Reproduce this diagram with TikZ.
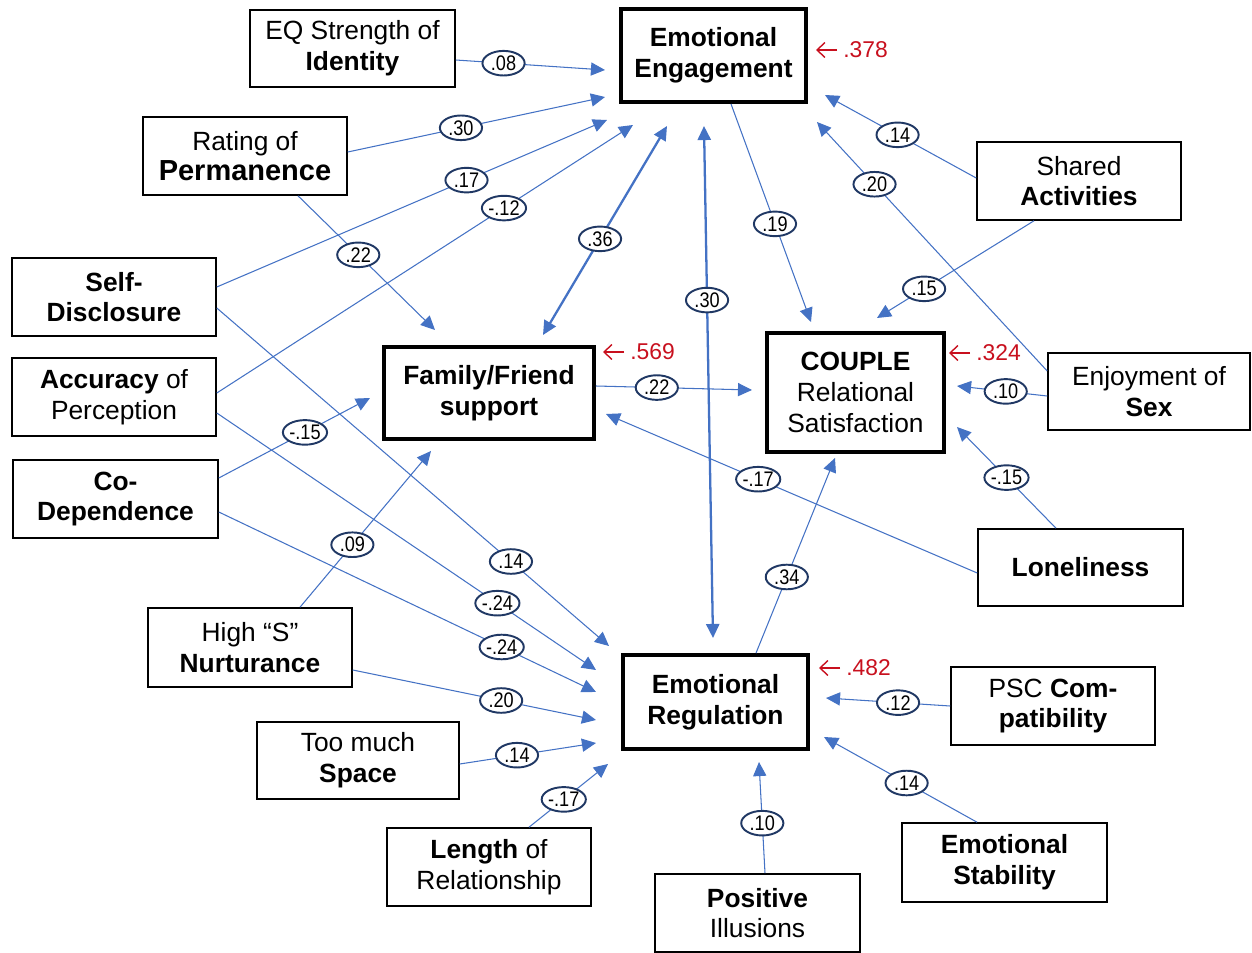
\documentclass[tikz,border=0pt]{standalone}
\usepackage{fontspec}
\setmainfont{Liberation Sans}
\newfontfamily\labfont[FakeStretch=0.86]{Liberation Sans}
\usetikzlibrary{arrows.meta,shapes.geometric,calc}
\definecolor{lineblue}{RGB}{68,114,196}
\definecolor{labnavy}{RGB}{32,56,100}
\definecolor{rsq}{RGB}{200,16,30}
\begin{document}
\begin{tikzpicture}[x=0.02cm,y=-0.02cm,
  box/.style={draw=black, line width=0.9pt, fill=white, align=center, inner sep=0pt, font=\fontsize{15}{17.5}\selectfont},
  thickbox/.style={box, line width=2.2pt},
  sz/.style 2 args={minimum width=#1*0.02cm, minimum height=#2*0.02cm},
  arr/.style={draw=lineblue, line width=0.6pt, -{Triangle[length=8pt,width=7.5pt]}},
  darr/.style={draw=lineblue, line width=1.3pt, {Triangle[length=8pt,width=7.5pt]}-{Triangle[length=8pt,width=7.5pt]}},
  lab/.style={ellipse, draw=labnavy, line width=1.1pt, fill=white, inner sep=0pt, minimum width=24pt, minimum height=14pt, font=\labfont\fontsize{12}{13}\selectfont, text=black},
  rlab/.style={anchor=west, inner sep=0pt, text=rsq, font=\fontsize{13}{15}\selectfont},
  rarr/.style={draw=rsq, line width=0.8pt, -{Straight Barb[length=4.5pt,width=8.5pt]}}]
\useasboundingbox (0,0) rectangle (1252,953);

% boxes
\node[box,sz={205}{77}] (eq) at (352.5,48.5) {EQ Strength of\\\textbf{Identity}};
\node[thickbox,sz={185}{93}] (ee) at (713.5,55.5) {\textbf{Emotional}\\\textbf{Engagement}};
\node[box,sz={204}{78}] (perm) at (245,156) {Rating of\\\textbf{\fontsize{16.5}{17.5}\selectfont Permanence}};
\node[box,sz={204}{78}] (sd) at (114,297) {\textbf{Self-}\\\textbf{Disclosure}};
\node[box,sz={204}{78}] (sa) at (1079,181) {Shared\\\textbf{Activities}};
\node[box,sz={204}{78}] (acc) at (114,397) {\textbf{Accuracy} of\\Perception};
\node[box,sz={205}{78}] (cod) at (115.5,499) {\textbf{Co-}\\\textbf{Dependence}};
\node[thickbox,sz={210}{92}] (ff) at (489,393) {\textbf{Family/Friend}\\\textbf{support}};
\node[box,line width=2.6pt,sz={177}{119}] (cp) at (855.5,392.5) {\textbf{COUPLE}\\Relational\\Satisfaction};
\node[box,sz={202}{77}] (sex) at (1149,391.5) {Enjoyment of\\\textbf{Sex}};
\node[box,sz={205}{77}] (lone) at (1080.5,567.5) {\textbf{Loneliness}};
\node[box,sz={204}{79}] (nurt) at (250,647.5) {High “S”\\\textbf{Nurturance}};
\node[box,sz={202}{77}] (space) at (358,760.5) {Too much\\\textbf{Space}};
\node[box,sz={204}{78}] (len) at (489,867) {\textbf{Length} of\\Relationship};
\node[thickbox,sz={185}{94}] (er) at (715.5,702) {\textbf{Emotional}\\\textbf{Regulation}};
\node[box,sz={204}{78}] (psc) at (1053,706) {PSC \textbf{Com-}\\\textbf{patibility}};
\node[box,sz={205}{79}] (stab) at (1004.5,862.5) {\textbf{Emotional}\\\textbf{Stability}};
\node[box,sz={205}{78}] (pi) at (757.5,913) {\textbf{Positive}\\Illusions};

% R squared
\node[rlab] (r1) at (843,50) {.378};
\node[rlab] (r2) at (630,352) {.569};
\node[rlab] (r3) at (976,353) {.324};
\node[rlab] (r4) at (846,668) {.482};
\draw[rarr] ($(r1.west)+(-6,0)$) -- ($(r1.west)+(-27,0)$);
\draw[rarr] ($(r2.west)+(-6,0)$) -- ($(r2.west)+(-27,0)$);
\draw[rarr] ($(r3.west)+(-6,0)$) -- ($(r3.west)+(-27,0)$);
\draw[rarr] ($(r4.west)+(-6,0)$) -- ($(r4.west)+(-27,0)$);

% tips
\coordinate (t1) at (605,70);
\coordinate (t2) at (605,97);
\coordinate (t3) at (607,120);
\coordinate (t4) at (633,125);
\coordinate (t5a) at (543,335);
\coordinate (t5b) at (667,126);
\coordinate (t6a) at (713,638);
\coordinate (t6b) at (704,126);
\coordinate (t7) at (811,322);
\coordinate (t8) at (825,95);
\coordinate (t9) at (817,122);
\coordinate (t10) at (877,318);
\coordinate (t11) at (435,330);
\coordinate (t12) at (370,398);
\coordinate (t13) at (431,451);
\coordinate (t14) at (606,414);
\coordinate (t15) at (752,390);
\coordinate (t16) at (957,386);
\coordinate (t17) at (957,427);
\coordinate (t18) at (835,458);
\coordinate (t19) at (609,646);
\coordinate (t20) at (596,670);
\coordinate (t21) at (596,692);
\coordinate (t22) at (596,720);
\coordinate (t23) at (596,743);
\coordinate (t24) at (608,764);
\coordinate (t25) at (826,698);
\coordinate (t26) at (824,737);
\coordinate (t27) at (759,762);

% edges
\draw[arr] ($(eq.east)+(0,11.5)$) -- coordinate[pos=0.32] (l1) (t1);
\draw[arr] ($(perm.east)+(0,-4)$) -- coordinate[pos=0.44] (l2) (t2);
\draw[arr] ($(sd.east)+(0,-10)$) -- coordinate[pos=0.64] (l3) (t3);
\draw[arr] ($(acc.east)+(0,-4)$) -- coordinate[pos=0.69] (l4) (t4);
\draw[darr] (t5a) -- coordinate[pos=0.46] (l5) (t5b);
\draw[darr] (t6a) -- coordinate[pos=0.66] (l6) (t6b);
\draw[arr] ($(ee.south)+(17.5,0)$) -- coordinate[pos=0.55] (l7) (t7);
\draw[arr] ($(sa.west)+(0,-3)$) -- coordinate[pos=0.52] (l8) (t8);
\draw[arr] ($(sex.west)+(0,-20.5)$) -- coordinate[pos=0.75] (l9) (t9);
\draw[arr] ($(sa.south)+(-45,0)$) -- coordinate[pos=0.70] (l10) (t10);
\draw[arr] ($(perm.south)+(53,0)$) -- coordinate[pos=0.44] (l11) (t11);
\draw[arr] ($(cod.east)+(0,-21)$) -- coordinate[pos=0.57] (l12) (t12);
\draw[arr] ($(nurt.north)+(50,0)$) -- coordinate[pos=0.40] (l13) (t13);
\draw[arr] ($(lone.west)+(0,5.5)$) -- coordinate[pos=0.59] (l14) (t14);
\draw[arr] ($(ff.east)+(0,-7)$) -- coordinate[pos=0.39] (l15) (t15);
\draw[arr] ($(sex.west)+(0,4.5)$) -- coordinate[pos=0.46] (l16) (t16);
\draw[arr] ($(lone.north)+(-24.5,0)$) -- coordinate[pos=0.50] (l17) (t17);
\draw[arr] ($(er.north)+(40.5,0)$) -- coordinate[pos=0.39] (l18) (t18);
\draw[arr] ($(sd.east)+(0,11)$) -- coordinate[pos=0.75] (l19) (t19);
\draw[arr] ($(acc.east)+(0,16)$) -- coordinate[pos=0.74] (l20) (t20);
\draw[arr] ($(cod.east)+(0,13)$) -- coordinate[pos=0.75] (l21) (t21);
\draw[arr] ($(nurt.east)+(0,22.5)$) -- coordinate[pos=0.61] (l22) (t22);
\draw[arr] ($(space.east)+(0,3.5)$) -- coordinate[pos=0.42] (l23) (t23);
\draw[arr] ($(len.north)+(40,0)$) -- coordinate[pos=0.44] (l24) (t24);
\draw[arr] (psc.west) -- coordinate[pos=0.42] (l25) (t25);
\draw[arr] ($(stab.north)+(-27.5,0)$) -- coordinate[pos=0.46] (l26) (t26);
\draw[arr] ($(pi.north)+(7.5,0)$) -- coordinate[pos=0.45] (l27) (t27);

% labels
\node[lab] (b1) at (l1) {.08};
\node[lab] (b2) at (l2) {.30};
\node[lab] (b3) at (l3) {.17};
\node[lab] (b4) at (l4) {-.12};
\node[lab] (b5) at (l5) {.36};
\node[lab] (b6) at (l6) {.30};
\node[lab] (b7) at (l7) {.19};
\node[lab] (b8) at (l8) {.14};
\node[lab] (b9) at (l9) {.20};
\node[lab] (b10) at (l10) {.15};
\node[lab] (b11) at (l11) {.22};
\node[lab] (b12) at (l12) {-.15};
\node[lab] (b13) at (l13) {.09};
\node[lab] (b14) at (l14) {-.17};
\node[lab] (b15) at (l15) {.22};
\node[lab] (b16) at (l16) {.10};
\node[lab] (b17) at (l17) {-.15};
\node[lab] (b18) at (l18) {.34};
\node[lab] (b19) at (l19) {.14};
\node[lab] (b20) at (l20) {-.24};
\node[lab] (b21) at (l21) {-.24};
\node[lab] (b22) at (l22) {.20};
\node[lab] (b23) at (l23) {.14};
\node[lab] (b24) at (l24) {-.17};
\node[lab] (b25) at (l25) {.12};
\node[lab] (b26) at (l26) {.14};
\node[lab] (b27) at (l27) {.10};
\end{tikzpicture}
\end{document}
